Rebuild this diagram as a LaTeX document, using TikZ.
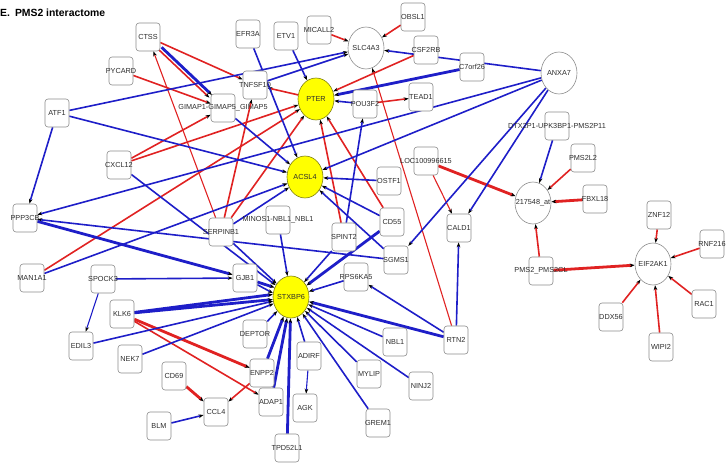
\documentclass[tikz,border=0pt]{standalone}
\usepackage{fontspec}
\setmainfont{Liberation Sans}
\usetikzlibrary{shapes.geometric,arrows.meta,backgrounds}
\definecolor{eblue}{RGB}{30,30,200}
\definecolor{ered}{RGB}{224,34,34}
\definecolor{bord}{RGB}{140,140,140}
\definecolor{ntext}{RGB}{45,45,45}
\definecolor{yel}{RGB}{255,255,0}
\definecolor{yelbord}{RGB}{125,125,20}
\newcommand\bx[3]{\node[gbox,label={[lab]center:#3}] (#1) at (#2) {};}
\newcommand\el[4]{\node[#4,label={[lab]center:#3}] (#1) at (#2) {};}
\begin{document}
\begin{tikzpicture}[x=1pt,y=-1pt,
  gbox/.style={draw=bord,fill=white,rounded corners=3pt,minimum width=24pt,minimum height=28pt,inner sep=0pt,line width=0.6pt},
  gell/.style={draw=bord,fill=white,ellipse,minimum width=36pt,minimum height=42pt,inner sep=0pt,line width=0.6pt},
  yell/.style={gell,fill=yel,draw=yelbord},
  lab/.style={font=\fontsize{7.3}{8}\selectfont,text=ntext,inner sep=0pt},
  tip/.style={-{Stealth[length=5pt,width=3.6pt,color=black]}},
  rt/.style={ered,line width=1.1pt,tip},
  rm/.style={ered,line width=1.6pt,tip},
  rT/.style={ered,line width=2.8pt,tip},
  bt/.style={eblue,line width=1.1pt,tip},
  bm/.style={eblue,line width=1.6pt,tip},
  bT/.style={eblue,line width=2.8pt,tip}]
\useasboundingbox (0,0) rectangle (727,465);
\node[anchor=base west,font=\bfseries\fontsize{10.4}{12}\selectfont,inner sep=0pt] (title) at (0,16.5) {E.\hspace{5pt}PMS2 interactome};
% nodes
\bx{ctss}{148,37}{CTSS}
\bx{pycard}{121,71}{PYCARD}
\bx{atf1}{57,113}{ATF1}
\bx{gimap}{223,108}{GIMAP1-GIMAP5\_GIMAP5}
\bx{tnfsf10}{255,85}{TNFSF10}
\bx{efr3a}{248,34}{EFR3A}
\bx{etv1}{286,36}{ETV1}
\bx{micall2}{319,30}{MICALL2}
\el{slc4a3}{366,48}{SLC4A3}{gell}
\bx{obsl1}{413,17}{OBSL1}
\bx{csf2rb}{426,50}{CSF2RB}
\bx{c7orf26}{472,67}{C7orf26}
\el{pter}{316,99}{PTER}{yell}
\bx{pou3f2}{365,104}{POU3F2}
\bx{tead1}{421,97}{TEAD1}
\el{anxa7}{559,73}{ANXA7}{gell}
\bx{dtx2p1}{557,126}{DTX2P1-UPK3BP1-PMS2P11}
\bx{pms2l2}{583,158}{PMS2L2}
\el{s217}{533,203}{217548\_at}{gell}
\bx{fbxl18}{595,199}{FBXL18}
\bx{znf12}{659,215}{ZNF12}
\bx{rnf216}{712,244}{RNF216}
\el{eif}{653,264}{EIF2AK1}{gell}
\bx{pms2cl}{541,271}{PMS2\_PMS2CL}
\bx{rac1}{704,304}{RAC1}
\bx{ddx56}{611,317}{DDX56}
\bx{wipi2}{661,347}{WIPI2}
\bx{loc}{426,161}{LOC100996615}
\bx{ostf1}{389,181}{OSTF1}
\el{acsl4}{305,177}{ACSL4}{yell}
\bx{cd55}{392,222}{CD55}
\bx{minos1}{278,220}{MINOS1-NBL1\_NBL1}
\bx{spint2}{344,237}{SPINT2}
\bx{sgms1}{396,260}{SGMS1}
\bx{cald1}{459,228}{CALD1}
\bx{rps6ka5}{356,277}{RPS6KA5}
\bx{gjb1}{245,278}{GJB1}
\el{stxbp6}{291,297}{STXBP6}{yell}
\bx{cxcl12}{119,165}{CXCL12}
\bx{ppp3cb}{25,218}{PPP3CB}
\bx{serpinb1}{221,232}{SERPINB1}
\bx{man1a1}{32,278}{MAN1A1}
\bx{spock3}{103,279}{SPOCK3}
\bx{klk6}{122,314}{KLK6}
\bx{edil3}{81,346}{EDIL3}
\bx{nek7}{130,359}{NEK7}
\bx{cd69}{174,376}{CD69}
\bx{ccl4}{216,412}{CCL4}
\bx{blm}{159,426}{BLM}
\bx{deptor}{255,334}{DEPTOR}
\bx{enpp2}{262,373}{ENPP2}
\bx{adap1}{271,402}{ADAP1}
\bx{adirf}{309,356}{ADIRF}
\bx{agk}{305,408}{AGK}
\bx{mylip}{369,374}{MYLIP}
\bx{grem1}{378,423}{GREM1}
\bx{ninj2}{421,386}{NINJ2}
\bx{nbl1}{395,342}{NBL1}
\bx{rtn2}{456,340}{RTN2}
\bx{tpd52l1}{287,448}{TPD52L1}
% edges
\begin{scope}[on background layer]
% red
\draw[rm] (ctss) -- (tnfsf10);
\draw[rm,transform canvas={xshift=-1.3pt,yshift=-1.3pt}] (ctss) -- (gimap);
\draw[rm] (pycard) -- (gimap);
\draw[rt] (serpinb1) -- (ctss);
\draw[rm] (serpinb1) -- (tnfsf10);
\draw[rm] (serpinb1) -- (pter);
\draw[rm] (cxcl12) -- (gimap);
\draw[rm] (cxcl12) -- (pter);
\draw[rm] (man1a1) -- (pter);
\draw[rm] (pter) -- (tnfsf10);
\draw[rm] (micall2) -- (slc4a3);
\draw[rm] (obsl1) -- (slc4a3);
\draw[rm] (csf2rb) -- (pter);
\draw[rm] (pou3f2) -- (tead1);
\draw[rt] (rtn2) -- (slc4a3);
\draw[rm] (spint2) -- (pter);
\draw[rm] (cd55) -- (pter);
\draw[rT] (loc) -- (s217);
\draw[rt] (loc) -- (cald1);
\draw[rm] (pms2l2) -- (s217);
\draw[rT] (fbxl18) -- (s217);
\draw[rm] (pms2cl) -- (s217);
\draw[rT] (pms2cl) -- (eif);
\draw[rm] (znf12) -- (eif);
\draw[rm] (rnf216) -- (eif);
\draw[rm] (rac1) -- (eif);
\draw[rm] (ddx56) -- (eif);
\draw[rm] (wipi2) -- (eif);
\draw[rT] (klk6) -- (enpp2);
\draw[rm] (klk6) -- (adap1);
\draw[rT] (cd69) -- (ccl4);
\draw[rm] (enpp2) -- (ccl4);
% blue
\draw[bT,transform canvas={xshift=1.3pt,yshift=1.3pt}] (ctss) -- (gimap);
\draw[bm] (atf1) -- (slc4a3);
\draw[bm] (tnfsf10) -- (slc4a3);
\draw[bm] (atf1) -- (acsl4);
\draw[bm] (atf1) -- (ppp3cb);
\draw[bm] (efr3a) -- (acsl4);
\draw[bm] (etv1) -- (pter);
\draw[bm] (anxa7) -- (slc4a3);
\draw[bT] (c7orf26) -- (pter);
\draw[bm] (pou3f2) -- (pter);
\draw[bm] (anxa7) -- (ppp3cb);
\draw[bm] (anxa7) -- (acsl4);
\draw[bm] (anxa7) -- (sgms1);
\draw[bm] (anxa7) -- (cald1);
\draw[bm] (dtx2p1) -- (s217);
\draw[bm] (gimap) -- (acsl4);
\draw[bm] (ostf1) -- (acsl4);
\draw[bm] (cd55) -- (acsl4);
\draw[bm] (sgms1) -- (acsl4);
\draw[bm] (serpinb1) -- (acsl4);
\draw[bm] (man1a1) -- (acsl4);
\draw[bm] (sgms1) -- (ppp3cb);
\draw[bT] (ppp3cb) -- (gjb1);
\draw[bm] (spock3) -- (gjb1);
\draw[bt] (spock3) -- (edil3);
\draw[bm] (cxcl12) -- (stxbp6);
\draw[bm] (serpinb1) -- (stxbp6);
\draw[bm] (minos1) -- (stxbp6);
\draw[bT] (gjb1) -- (stxbp6.150);
\draw[bm] (gjb1) -- (stxbp6.168);
\draw[bm] (spint2) -- (stxbp6);
\draw[bm] (spint2) -- (pou3f2);
\draw[bT] (cd55) -- (stxbp6);
\draw[bm] (rps6ka5) -- (stxbp6);
\draw[bT] (klk6) -- (stxbp6.172);
\draw[bT] (klk6) -- (stxbp6.188);
\draw[bm] (edil3) -- (stxbp6);
\draw[bm] (nek7) -- (stxbp6);
\draw[bm] (deptor) -- (stxbp6);
\draw[bT] (enpp2) -- (stxbp6);
\draw[bT] (adap1) -- (stxbp6);
\draw[bT] (tpd52l1) -- (stxbp6);
\draw[bm] (adirf) -- (stxbp6);
\draw[bt] (adirf) -- (agk);
\draw[bm] (mylip) -- (stxbp6);
\draw[bm] (grem1) -- (stxbp6);
\draw[bm] (ninj2) -- (stxbp6);
\draw[bm] (nbl1) -- (stxbp6);
\draw[bT] (rtn2) -- (stxbp6);
\draw[bm] (rtn2) -- (rps6ka5);
\draw[bm] (rtn2) -- (cald1);
\draw[bm] (blm) -- (ccl4);
\end{scope}
\end{tikzpicture}
\end{document}
